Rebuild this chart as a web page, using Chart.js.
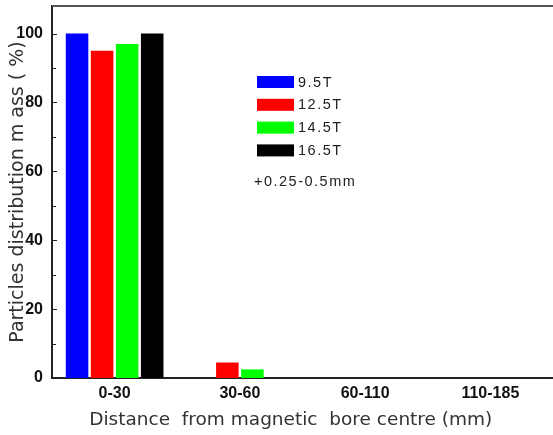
<!DOCTYPE html>
<html>
<head>
<meta charset="utf-8">
<script src="https://cdn.jsdelivr.net/npm/chart.js@4.4.1/dist/chart.umd.min.js"></script>
<style>
  html, body { margin: 0; padding: 0; background: #fff; }
  canvas { display: block; }
</style>
</head>
<body>
<canvas id="c" width="553" height="435"></canvas>
<script>
// Distance bins from the magnetic bore centre (mm)
const categories = ['0-30', '30-60', '60-110', '110-185'];
// Field strengths, one series each
const fieldLabels = ['9.5T', '12.5T', '14.5T', '16.5T'];
// Particle mass share per bin (%)
const mass95 = [100, 0, 0, 0];
const mass125 = [95, 4.5, 0, 0];
const mass145 = [97, 2.5, 0, 0];
const mass165 = [100, 0, 0, 0];
const barColors = ['#0000ff', '#ff0000', '#00ff00', '#000000'];
// Y axis tick values
const majorTicks = [0, 20, 40, 60, 80, 100];
const minorTicks = [10, 30, 50, 70, 90];
const sizeNote = '+0.25-0.5mm';

const seriesValues = [mass95, mass125, mass145, mass165];

// Top edge of the plot frame
const frameTop = {
  id: 'frameTop',
  afterDraw(chart) {
    const { ctx, chartArea } = chart;
    ctx.save();
    ctx.strokeStyle = '#555';
    ctx.lineWidth = 2;
    ctx.beginPath();
    ctx.moveTo(chartArea.left, chartArea.top);
    ctx.lineTo(chartArea.right, chartArea.top);
    ctx.stroke();
    ctx.restore();
  }
};

// Short inward tick marks on the y axis
const inwardTicks = {
  id: 'inwardTicks',
  afterDraw(chart) {
    const { ctx, chartArea, scales } = chart;
    ctx.save();
    ctx.strokeStyle = '#222';
    ctx.lineWidth = 1;
    const marks = majorTicks.map(v => [v, 4]).concat(minorTicks.map(v => [v, 3]));
    marks.forEach(([v, len]) => {
      const y = Math.round(scales.y.getPixelForValue(v)) + 0.5;
      ctx.beginPath();
      ctx.moveTo(chartArea.left, y);
      ctx.lineTo(chartArea.left + 1 + len, y);
      ctx.stroke();
    });
    ctx.restore();
  }
};

// Legend block inside the plot, plus the particle size note
const legendBlock = {
  id: 'legendBlock',
  afterDraw(chart) {
    const ctx = chart.ctx;
    ctx.save();
    ctx.font = '14.5px "Liberation Sans"';
    ctx.textBaseline = 'middle';
    ctx.letterSpacing = '1.5px';
    chart.data.datasets.forEach((ds, i) => {
      const top = 76 + i * 22.8;
      ctx.fillStyle = ds.backgroundColor;
      ctx.fillRect(257, top, 37, 12);
      ctx.fillStyle = '#222';
      ctx.fillText(ds.label, 298, top + 6.5);
    });
    ctx.fillStyle = '#222';
    ctx.fillText(sizeNote, 254, 182);
    ctx.restore();
  }
};

new Chart(document.getElementById('c'), {
  type: 'bar',
  data: {
    labels: categories,
    datasets: fieldLabels.map((label, i) => ({
      label,
      data: seriesValues[i],
      backgroundColor: barColors[i],
      borderWidth: 0,
      categoryPercentage: 0.8,
      barPercentage: 0.9
    }))
  },
  options: {
    responsive: false,
    animation: false,
    devicePixelRatio: 1,
    layout: { padding: { top: 6, right: 0, left: 0, bottom: 0 } },
    plugins: {
      legend: { display: false },
      tooltip: { enabled: false }
    },
    scales: {
      x: {
        type: 'category',
        offset: true,
        grid: { display: false, drawTicks: false },
        border: { display: true, color: '#222', width: 2 },
        ticks: {
          color: '#111',
          padding: 6,
          maxRotation: 0,
          font: { family: '"Liberation Sans"', weight: 'bold', size: 16 }
        },
        title: {
          display: true,
          text: 'Distance  from magnetic  bore centre (mm)    ',
          color: '#333',
          padding: { top: 0, bottom: 4 },
          font: { family: '"DejaVu Sans"', size: 18.5 }
        },
        afterFit(scale) {
          scale.height = 57;
          scale.paddingLeft = 0;
          scale.paddingRight = 0;
        }
      },
      y: {
        min: 0,
        max: 108,
        grid: { display: false, drawTicks: false },
        border: { display: true, color: '#222', width: 2 },
        ticks: {
          stepSize: 20,
          includeBounds: false,
          color: '#111',
          padding: 9,
          font: { family: '"Liberation Sans"', weight: 'bold', size: 16 }
        },
        title: {
          display: true,
          text: 'Particles distribution m ass ( %)',
          color: '#333',
          padding: { top: 7, bottom: 0 },
          font: { family: '"DejaVu Sans"', size: 19 }
        },
        afterFit(scale) {
          scale.width = 52;
          scale.paddingTop = 0;
          scale.paddingBottom = 0;
        }
      }
    }
  },
  plugins: [frameTop, inwardTicks, legendBlock]
});
</script>
</body>
</html>
